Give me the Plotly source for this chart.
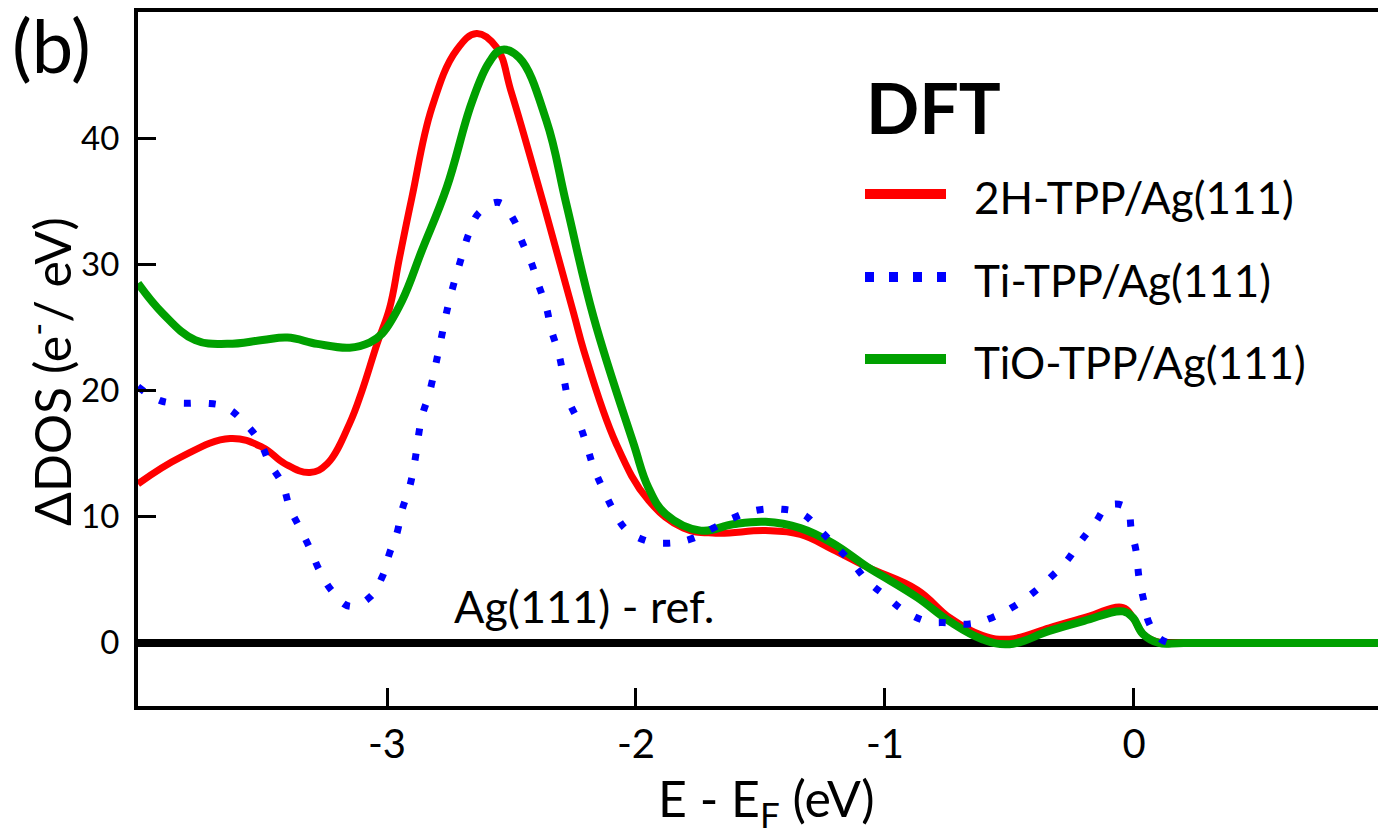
import plotly.graph_objects as go

# Energy relative to the Fermi level (eV) and ΔDOS (e-/eV) for each system
e_2h = [-4.00, -3.83, -3.63, -3.50, -3.41, -3.31, -3.24, -3.15, -3.10, -3.04, -2.99, -2.95,
        -2.90, -2.82, -2.72, -2.64, -2.56, -2.50, -2.39, -2.25, -2.21, -2.08, -1.95, -1.81,
        -1.68, -1.48, -1.34, -1.21, -1.07, -0.87, -0.74, -0.61, -0.50, -0.34, -0.20, -0.044,
        -0.004, 0.036, 0.09, 0.20, 0.98]
dos_2h = [12.6, 14.7, 16.2, 15.5, 14.2, 13.5, 14.2, 17.4, 20.0, 23.7, 26.5, 30.5,
          35.3, 42.4, 47.0, 48.3, 47.2, 43.6, 36.1, 26.1, 23.2, 15.8, 11.3, 9.1,
          8.7, 8.9, 8.6, 7.4, 6.0, 4.2, 2.0, 0.6, 0.3, 1.2, 2.0, 2.8,
          2.0, 0.7, 0.1, 0.0, 0.0]

e_ti = [-4.00, -3.91, -3.83, -3.73, -3.65, -3.57, -3.51, -3.47, -3.42, -3.39, -3.35, -3.31,
        -3.27, -3.22, -3.15, -3.07, -3.02, -2.99, -2.96, -2.94, -2.91, -2.89, -2.86, -2.83,
        -2.79, -2.75, -2.70, -2.67, -2.63, -2.55, -2.49, -2.46, -2.42, -2.39, -2.36, -2.34,
        -2.31, -2.29, -2.27, -2.23, -2.20, -2.17, -2.13, -2.09, -2.04, -1.96, -1.87, -1.77,
        -1.69, -1.61, -1.52, -1.42, -1.33, -1.26, -1.19, -1.13, -1.07, -0.99, -0.92, -0.83,
        -0.75, -0.66, -0.57, -0.49, -0.41, -0.34, -0.27, -0.22, -0.16, -0.10, -0.03, -0.01,
        0.01, 0.02, 0.04, 0.06, 0.10, 0.14]
dos_ti = [20.3, 19.2, 19.0, 19.0, 18.7, 17.4, 15.9, 14.2, 12.6, 10.7, 9.1, 7.5,
          5.7, 4.1, 2.9, 3.6, 5.2, 7.1, 8.7, 10.5, 12.3, 14.2, 17.9, 19.8,
          23.4, 27.1, 30.6, 32.5, 34.1, 34.9, 33.5, 31.9, 30.1, 28.3, 26.6, 24.8,
          22.9, 21.0, 19.2, 17.5, 15.8, 13.9, 12.1, 10.5, 9.0, 8.1, 7.9, 8.3,
          9.1, 9.9, 10.5, 10.6, 10.2, 8.9, 7.5, 6.3, 4.9, 3.6, 2.5, 1.7,
          1.6, 1.5, 2.0, 2.8, 3.9, 5.1, 6.5, 7.9, 9.4, 10.9, 10.7, 8.9,
          7.1, 5.2, 3.3, 1.6, 0.4, 0.0]

e_tio = [-4.00, -3.90, -3.77, -3.64, -3.50, -3.40, -3.28, -3.15, -3.07, -3.02, -2.94, -2.86,
         -2.76, -2.66, -2.59, -2.54, -2.47, -2.36, -2.28, -2.17, -2.01, -1.95, -1.88, -1.74,
         -1.61, -1.48, -1.34, -1.21, -1.07, -1.01, -0.87, -0.74, -0.61, -0.50, -0.34, -0.20,
         -0.044, -0.004, 0.036, 0.10, 0.20, 0.98]
dos_tio = [28.5, 26.1, 24.0, 23.7, 24.0, 24.2, 23.7, 23.4, 23.8, 24.5, 27.1, 31.1,
           36.1, 42.8, 46.0, 47.0, 46.4, 41.4, 34.8, 25.8, 15.8, 12.3, 10.2, 8.9,
           9.4, 9.6, 9.1, 7.9, 6.0, 5.3, 3.6, 1.7, 0.3, -0.1, 0.95, 1.75,
           2.5, 2.0, 0.7, 0.0, 0.0, 0.0]

x_ticks = [-3, -2, -1, 0]
y_ticks = [0, 10, 20, 30, 40]

series_names = ["2H-TPP/Ag(111)", "Ti-TPP/Ag(111)", "TiO-TPP/Ag(111)"]
RED, BLUE, GREEN = "#FF0000", "#0000FF", "#00A000"
FONT = "Lato"

W, H = 1378, 836
ML, MR, MT, MB = 138, 0, 12, 130
PW, PH = W - ML - MR, H - MT - MB


def px(xp):
    return (xp - ML) / PW


def py(yp):
    return (H - MB - yp) / PH


SMOOTH = 1.15

fig = go.Figure()
fig.add_trace(go.Scatter(x=e_2h, y=dos_2h, mode="lines", name=series_names[0],
                         line=dict(color=RED, width=7, shape="spline", smoothing=SMOOTH)))
fig.add_trace(go.Scatter(x=e_tio, y=dos_tio, mode="lines", name=series_names[2],
                         line=dict(color=GREEN, width=8, shape="spline", smoothing=SMOOTH)))
fig.add_trace(go.Scatter(x=e_ti, y=dos_ti, mode="lines", name=series_names[1],
                         line=dict(color=BLUE, width=7, dash="7px,18px", shape="spline",
                                   smoothing=SMOOTH)))

# hand-drawn legend: line samples and labels
legend_rows = [(series_names[0], RED, "solid", 194),
               (series_names[1], BLUE, "9px,15px", 277),
               (series_names[2], GREEN, "solid", 359)]
shapes = []
annotations = []
for name, color, dash, yp in legend_rows:
    shapes.append(dict(type="line", xref="paper", yref="paper",
                       x0=px(865), x1=px(946), y0=py(yp), y1=py(yp),
                       line=dict(color=color, width=10, dash=dash)))
    annotations.append(dict(text=name, xref="paper", yref="paper", x=px(972), y=py(yp + 3),
                            xanchor="left", yanchor="middle", showarrow=False,
                            font=dict(family=FONT, size=44, color="black")))

annotations += [
    dict(text="<b>DFT</b>", xref="paper", yref="paper", x=px(864), y=py(107),
         xanchor="left", yanchor="middle", showarrow=False,
         font=dict(family=FONT, size=70, color="black")),
    dict(text="Ag(111) - ref.", xref="paper", yref="paper", x=px(452), y=py(606),
         xanchor="left", yanchor="middle", showarrow=False,
         font=dict(family=FONT, size=45, color="black")),
    dict(text="(b)", xref="paper", yref="paper", x=px(10), y=py(44),
         xanchor="left", yanchor="middle", showarrow=False,
         font=dict(family=FONT, size=74, color="black")),
    dict(text="ΔDOS (e<sup>-</sup>/ eV)", xref="paper", yref="paper", x=px(48), y=py(372),
         xanchor="center", yanchor="middle", textangle=-90, showarrow=False,
         font=dict(family=FONT, size=50, color="black")),
    dict(text="E - E<sub>F</sub> (eV)", xref="paper", yref="paper", x=px(766), y=py(801),
         xanchor="center", yanchor="middle", showarrow=False,
         font=dict(family=FONT, size=50, color="black")),
]

fig.update_layout(
    width=W, height=H,
    margin=dict(l=ML, r=MR, t=MT, b=MB, pad=0),
    paper_bgcolor="white", plot_bgcolor="white",
    showlegend=False,
    shapes=shapes, annotations=annotations,
    font=dict(family=FONT, color="black"),
)
fig.update_xaxes(range=[-4.0, 0.98], tickvals=x_ticks, ticktext=[str(v) for v in x_ticks],
                 ticks="inside", ticklen=18, tickwidth=3, tickcolor="black",
                 showline=True, linecolor="black", linewidth=4, mirror=True,
                 showgrid=False, zeroline=False,
                 tickfont=dict(family=FONT, size=40, color="black"), ticklabelstandoff=0)
fig.update_yaxes(range=[-5, 50], tickvals=y_ticks, ticktext=[str(v) for v in y_ticks],
                 ticks="inside", ticklen=18, tickwidth=3, tickcolor="black",
                 showline=True, linecolor="black", linewidth=4, mirror=False,
                 showgrid=False, zeroline=True, zerolinecolor="black", zerolinewidth=8,
                 tickfont=dict(family=FONT, size=33, color="black"), ticklabelstandoff=8)

fig.write_html("out.html")
